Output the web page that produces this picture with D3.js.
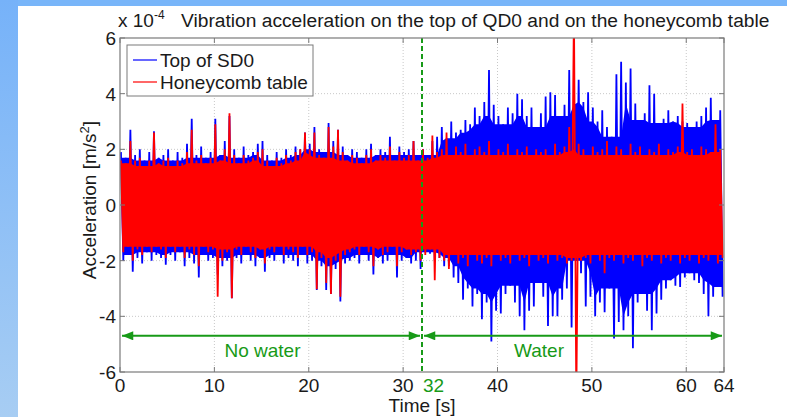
<!DOCTYPE html>
<html>
<head>
<meta charset="utf-8">
<script src="https://cdn.jsdelivr.net/npm/d3@7"></script>
<style>
  body { margin: 0; background: #fff; }
  svg { display: block; }
  text { font-family: "Liberation Sans", Arial, Helvetica, sans-serif; fill: #1a1a1a; }
</style>
</head>
<body>
<svg id="chart" width="787" height="417"></svg>
<script>
// Peak envelope of each record, one upper and one lower peak per 0.5 s window (units of 1e-4 m/s^2)
const binWidth = 0.5;

const sd0High = [
  1.9, 1.7, 2.7, 1.8, 2.0, 1.6, 1.9, 2.65, 1.7, 1.8,
  2.0, 1.6, 1.9, 1.7, 2.2, 3.1, 1.8, 2.1, 1.7, 1.9,
  3.1, 1.8, 2.3, 3.2, 2.0, 1.7, 2.1, 1.8, 1.9, 2.2,
  2.3, 1.8, 1.6, 1.9, 1.7, 2.0, 1.8, 2.1, 2.0, 2.6,
  2.2, 2.8, 2.0, 1.9, 2.95, 2.3, 2.7, 2.1, 1.8, 2.0,
  1.9, 1.7, 2.0, 2.2, 1.8, 2.0, 1.9, 2.45, 1.8, 2.1,
  1.9, 2.0, 2.3, 1.8,
  2.0, 1.8, 2.3, 2.45, 2.8, 2.4, 3.0, 2.6, 2.7, 3.05,
  2.9, 3.5, 3.2, 3.7, 4.85, 3.6, 3.2, 2.9, 3.5, 3.3,
  4.0, 3.8, 3.2, 3.5, 2.8, 3.3, 3.9, 4.05, 3.95, 3.2,
  3.6, 4.85, 3.8, 4.5, 3.7, 4.05, 3.5, 3.0, 3.4, 2.8,
  2.45, 4.7, 5.15, 4.4, 4.9, 3.65, 3.05, 3.3, 4.3, 4.0,
  2.95, 3.1, 3.4, 3.0, 3.2, 3.0, 2.95, 2.8, 3.0, 3.2,
  3.5, 3.85, 3.05, 3.4
];
const sd0Low = [
  -2.0, -1.8, -2.4, -1.9, -2.1, -1.7, -2.0, -1.8, -1.9, -2.15,
  -1.8, -2.0, -1.7, -2.2, -1.9, -2.1, -2.6, -1.8, -2.0, -1.9,
  -2.5, -2.2, -2.0, -3.35, -1.9, -2.1, -1.8, -2.0, -2.2, -1.9,
  -2.4, -1.9, -2.0, -1.8, -2.1, -1.9, -2.0, -2.2, -1.8, -2.1,
  -2.0, -3.05, -2.2, -3.05, -3.2, -2.3, -3.47, -2.1, -2.0, -1.9,
  -2.1, -1.8, -2.0, -2.5, -1.9, -2.1, -2.0, -1.8, -2.6, -2.0,
  -1.9, -2.1, -2.0, -2.3,
  -1.7, -1.75, -2.0, -1.9, -2.2, -2.2, -2.6, -2.8, -3.4, -3.0,
  -3.65, -3.2, -4.1, -3.5, -4.9, -3.8, -3.9, -3.2, -2.9, -3.5,
  -4.0, -4.5, -3.8, -3.65, -2.8, -3.3, -4.35, -4.0, -4.0, -3.4,
  -3.0, -4.4, -2.0, -2.45, -3.65, -3.3, -4.0, -3.5, -3.85, -3.0,
  -4.8, -4.2, -4.5, -4.0, -5.15, -3.5, -3.2, -3.8, -4.5, -3.9,
  -3.4, -3.0, -2.7, -2.9, -2.95, -2.6, -2.45, -2.7, -2.8, -3.2,
  -4.0, -3.3, -2.95, -3.3
];
const tableHigh = [
  1.6, 1.5, 2.3, 1.6, 1.7, 1.4, 1.6, 2.6, 1.5, 1.6,
  1.7, 1.4, 1.6, 1.5, 1.9, 2.7, 1.6, 1.8, 1.5, 1.7,
  2.9, 1.6, 2.0, 3.3, 1.8, 1.5, 1.8, 1.6, 1.7, 1.9,
  2.0, 1.6, 1.4, 1.7, 1.5, 1.8, 1.6, 1.9, 2.0, 2.6,
  2.0, 2.6, 1.8, 1.7, 2.8, 2.1, 2.7, 1.9, 1.6, 1.8,
  1.7, 1.5, 1.8, 2.0, 1.6, 1.8, 1.7, 2.1, 1.6, 1.9,
  1.7, 1.8, 2.3, 1.6,
  2.0, 1.7, 2.5, 1.9, 2.0, 2.6, 1.8, 2.1, 1.9, 2.2,
  1.8, 2.0, 2.1, 1.9, 2.3, 1.8, 2.0, 1.9, 2.2, 1.8,
  2.0, 1.9, 2.1, 1.8, 2.0, 1.9, 2.0, 1.8, 2.2, 1.9,
  2.1, 2.8, 7.0, 2.2, 2.0, 1.8, 2.1, 1.9, 2.0, 2.3,
  1.8, 2.1, 2.0, 1.8, 2.2, 1.9, 2.1, 1.8, 2.0, 1.9,
  2.2, 1.8, 2.0, 1.9, 2.1, 3.65, 1.9, 2.0, 1.8, 2.1,
  2.0, 1.9, 2.9, 2.0
];
const tableLow = [
  -1.7, -1.5, -2.0, -1.6, -1.8, -1.5, -1.7, -1.5, -1.6, -1.9,
  -1.5, -1.7, -1.5, -1.9, -1.6, -1.8, -2.2, -1.5, -1.7, -1.6,
  -3.3, -2.0, -1.7, -3.35, -1.6, -1.8, -1.5, -1.7, -1.9, -1.6,
  -2.1, -1.6, -1.7, -1.5, -1.8, -1.6, -1.7, -1.9, -1.5, -1.8,
  -1.7, -3.03, -1.9, -2.8, -3.2, -2.0, -3.3, -1.8, -1.7, -1.6,
  -1.8, -1.5, -1.7, -2.2, -1.6, -1.8, -1.7, -1.5, -2.2, -1.7,
  -1.6, -1.8, -1.7, -2.0,
  -1.8, -1.6, -2.7, -1.9, -2.0, -2.3, -1.8, -2.1, -1.9, -2.2,
  -1.8, -2.0, -2.1, -1.9, -2.2, -1.8, -2.0, -1.9, -2.1, -1.8,
  -2.0, -1.9, -2.2, -1.8, -2.0, -1.9, -2.1, -1.8, -2.0, -1.9,
  -2.1, -2.0, -7.0, -2.0, -1.9, -2.1, -1.8, -2.0, -2.45, -1.9,
  -2.0, -1.8, -2.1, -1.9, -2.0, -1.8, -2.2, -1.9, -2.0, -1.8,
  -2.1, -1.9, -2.0, -1.8, -2.1, -1.9, -2.0, -1.8, -2.1, -1.9,
  -2.0, -1.8, -2.1, -1.9
];

const xTicks = [0, 10, 20, 30, 40, 50, 60, 64];
const yTicks = [-6, -4, -2, 0, 2, 4, 6];
const waterStart = 32;
const arrowLevel = -4.7;
const phases = [
  { label: "No water", from: 0, to: 32, labelAt: 15.1 },
  { label: "Water", from: 32, to: 64, labelAt: 44.4 }
];
const legendItems = [
  { label: "Top of SD0", color: "#0000ff" },
  { label: "Honeycomb table", color: "#ff0000" }
];

const svg = d3.select("#chart");
const W = 787, H = 417;
const green = "#179a17";
const fs = "19px";

// page frame: light-blue band along the top and left edges
const defs = svg.append("defs");
const grad = defs.append("linearGradient").attr("id", "sideGrad")
  .attr("x1", 0).attr("y1", 0).attr("x2", 0).attr("y2", 1);
grad.append("stop").attr("offset", "0%").attr("stop-color", "#76b2f9");
grad.append("stop").attr("offset", "100%").attr("stop-color", "#a7cdf3");
svg.append("rect").attr("x", 0).attr("y", 0).attr("width", W).attr("height", 6).attr("fill", "#78b5f9");
svg.append("rect").attr("x", 0).attr("y", 0).attr("width", 18).attr("height", H).attr("fill", "url(#sideGrad)");

const x = d3.scaleLinear().domain([0, 64]).range([120, 724]);
const y = d3.scaleLinear().domain([-6, 6]).range([372, 38]);
const [x0, x1] = x.range();
const [y0, y1] = [y(6), y(-6)];

defs.append("clipPath").attr("id", "plotClip")
  .append("rect").attr("x", x0).attr("y", y0).attr("width", x1 - x0).attr("height", y1 - y0);

// dotted grid
const grid = svg.append("g");
grid.selectAll(".gx").data(xTicks.filter(d => d > 0 && d < 64)).enter().append("line")
  .attr("x1", d => x(d)).attr("x2", d => x(d)).attr("y1", y0).attr("y2", y1)
  .attr("stroke", "#c8c8c8").attr("stroke-width", 1).attr("stroke-dasharray", "1,2");
grid.selectAll(".gy").data(yTicks.filter(d => d > -6 && d < 6)).enter().append("line")
  .attr("x1", x0).attr("x2", x1).attr("y1", d => y(d)).attr("y2", d => y(d))
  .attr("stroke", "#c8c8c8").attr("stroke-width", 1).attr("stroke-dasharray", "1,2");

const tHigh = i => i * binWidth + 0.1;
const tLow = i => i * binWidth + 0.35;

// the dense body of a record: bounded by the smallest peaks of the surrounding windows
function bodyRows(high, low, reach) {
  return high.map((h, i) => {
    const a = Math.max(0, i - reach), b = Math.min(high.length, i + reach + 1);
    return { i, top: d3.min(high.slice(a, b)), bottom: d3.max(low.slice(a, b)) };
  });
}
// the individual peaks, joined as a trace
function tracePoints(high, low) {
  const pts = [];
  high.forEach((h, i) => {
    pts.push([tHigh(i), h]);
    pts.push([tLow(i), low[i]]);
  });
  return pts;
}
const area = d3.area()
  .x1(d => x(tHigh(d.i))).y1(d => y(d.top))
  .x0(d => x(tLow(d.i))).y0(d => y(d.bottom));
const line = d3.line().x(d => x(d[0])).y(d => y(d[1]));

const traces = svg.append("g").attr("clip-path", "url(#plotClip)");
[[sd0High, sd0Low, "#0000ff"], [tableHigh, tableLow, "#ff0000"]].forEach(([hi, lo, col]) => {
  traces.append("path").attr("d", area(bodyRows(hi, lo, 2))).attr("fill", col);
  traces.append("path").attr("d", line(tracePoints(hi, lo)))
    .attr("fill", "none").attr("stroke", col).attr("stroke-width", 1.8).attr("stroke-linejoin", "bevel");
});

// water switched on
svg.append("line").attr("x1", x(waterStart)).attr("x2", x(waterStart)).attr("y1", y0).attr("y2", y1)
  .attr("stroke", green).attr("stroke-width", 2).attr("stroke-dasharray", "5,3");

// phase arrows
defs.append("marker").attr("id", "arrowEnd").attr("viewBox", "0 0 10 8").attr("refX", 10).attr("refY", 4)
  .attr("markerUnits", "userSpaceOnUse").attr("markerWidth", 13).attr("markerHeight", 9).attr("orient", "auto")
  .append("path").attr("d", "M0,0L10,4L0,8Z").attr("fill", green);
defs.append("marker").attr("id", "arrowStart").attr("viewBox", "0 0 10 8").attr("refX", 0).attr("refY", 4)
  .attr("markerUnits", "userSpaceOnUse").attr("markerWidth", 13).attr("markerHeight", 9).attr("orient", "auto")
  .append("path").attr("d", "M10,0L0,4L10,8Z").attr("fill", green);
phases.forEach(p => {
  svg.append("line").attr("x1", x(p.from) + 2).attr("x2", x(p.to) - 2)
    .attr("y1", y(arrowLevel)).attr("y2", y(arrowLevel))
    .attr("stroke", green).attr("stroke-width", 2)
    .attr("marker-start", "url(#arrowStart)").attr("marker-end", "url(#arrowEnd)");
  svg.append("text").attr("x", x(p.labelAt)).attr("y", y(arrowLevel) + 21)
    .attr("text-anchor", "middle").style("font-size", fs).style("fill", green).text(p.label);
});

// axes box with inward ticks
const axisColor = "#7a7a7a";
svg.append("rect").attr("x", x0).attr("y", y0).attr("width", x1 - x0).attr("height", y1 - y0)
  .attr("fill", "none").attr("stroke", axisColor).attr("stroke-width", 1.2);
const tickLen = 5;
xTicks.forEach(t => {
  svg.append("line").attr("x1", x(t)).attr("x2", x(t)).attr("y1", y1).attr("y2", y1 - tickLen).attr("stroke", axisColor);
  svg.append("line").attr("x1", x(t)).attr("x2", x(t)).attr("y1", y0).attr("y2", y0 + tickLen).attr("stroke", axisColor);
});
yTicks.forEach(t => {
  svg.append("line").attr("x1", x0).attr("x2", x0 + tickLen).attr("y1", y(t)).attr("y2", y(t)).attr("stroke", axisColor);
  svg.append("line").attr("x1", x1).attr("x2", x1 - tickLen).attr("y1", y(t)).attr("y2", y(t)).attr("stroke", axisColor);
});

// tick labels
svg.append("g").selectAll("text").data(xTicks).enter().append("text")
  .attr("x", d => x(d)).attr("y", y1 + 20).attr("text-anchor", "middle")
  .style("font-size", fs).text(d => d);
svg.append("text").attr("x", x(waterStart) + 1).attr("y", y1 + 20).attr("text-anchor", "start")
  .style("font-size", fs).style("fill", green).text(waterStart);
svg.append("g").selectAll("text").data(yTicks).enter().append("text")
  .attr("x", x0 - 4).attr("y", d => y(d) + 7).attr("text-anchor", "end")
  .style("font-size", fs).text(d => d);

// exponent note and title
const expo = svg.append("text").attr("x", x0 - 2).attr("y", 27).style("font-size", fs);
expo.append("tspan").text("x 10");
expo.append("tspan").attr("dy", -8).style("font-size", "12px").text("-4");
svg.append("text").attr("x", 181).attr("y", 27).style("font-size", "19.2px")
  .text("Vibration acceleration on the top of QD0 and on the honeycomb table");

// axis titles
svg.append("text").attr("x", (x0 + x1) / 2).attr("y", 412).attr("text-anchor", "middle")
  .style("font-size", fs).text("Time [s]");
const yl = svg.append("text").attr("transform", "translate(96,200) rotate(-90)")
  .attr("text-anchor", "middle").style("font-size", fs);
yl.append("tspan").text("Acceleration [m/s");
yl.append("tspan").attr("dy", -7).style("font-size", "13px").text("2");
yl.append("tspan").attr("dy", 7).text("]");

// legend
const lg = svg.append("g");
lg.append("rect").attr("x", 127).attr("y", 45).attr("width", 186).attr("height", 51)
  .attr("fill", "#fff").attr("stroke", axisColor).attr("stroke-width", 1);
legendItems.forEach((d, i) => {
  const cy = 60 + i * 22;
  lg.append("line").attr("x1", 133).attr("x2", 157).attr("y1", cy).attr("y2", cy)
    .attr("stroke", d.color).attr("stroke-width", 1.2);
  lg.append("text").attr("x", 160).attr("y", cy + 7).style("font-size", fs).text(d.label);
});
</script>
</body>
</html>
